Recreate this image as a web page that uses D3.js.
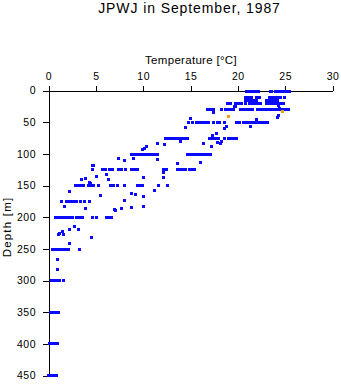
<!DOCTYPE html>
<html><head><meta charset="utf-8">
<script src="https://cdn.jsdelivr.net/npm/d3@7"></script>
<style>body{margin:0;background:#fff} svg{display:block}</style>
</head><body>
<svg id="c" width="341" height="384"></svg>
<script>
const title = "JPWJ in September, 1987";
const xLabel = "Temperature [°C]";
const yLabel = "Depth [m]";
const xTicks = [0, 5, 10, 15, 20, 25, 30];
const yTicks = [0, 50, 100, 150, 200, 250, 300, 350, 400, 450];

// standard-depth bands: depth and the temperatures observed there
const bandDepths = [1, 11, 16, 21, 30, 50, 76, 101, 125, 150, 176, 201, 251, 300, 350, 400, 450];
const bandTemps = [
  [20.9, 21.2, 21.6, 21.9, 22.2, 23.4, 23.6, 24.0, 24.3, 24.6, 24.9, 25.2, 25.5],
  [20.8, 21.1, 21.4, 22.0, 22.3, 23.3, 23.6, 23.9, 24.2, 24.5, 24.9],
  [20.8, 21.1, 21.4, 21.7, 22.0, 23.0, 23.3, 23.6, 23.9, 24.2],
  [18.9, 19.2, 19.8, 20.1, 20.4, 20.8, 21.2, 21.5, 21.9, 22.2, 22.4, 23.0, 23.3, 23.6, 23.9, 24.2, 24.5, 24.8],
  [16.8, 17.1, 17.4, 18.3, 18.7, 18.9, 19.2, 19.5, 20.3, 20.6, 20.9, 21.2, 21.5, 22.1, 22.4, 22.7, 23.0, 23.3, 23.6, 23.9, 24.1, 24.4, 24.7, 25.0, 25.3],
  [14.8, 15.2, 15.6, 16.0, 16.3, 16.6, 16.9, 17.4, 17.8, 18.1, 18.6, 19.9, 20.2, 20.6, 20.8, 21.1, 21.4, 21.7, 22.0, 22.2, 22.5, 22.8, 23.1],
  [12.4, 12.7, 13.0, 13.3, 13.6, 13.9, 14.2, 14.5, 14.7, 17.0, 17.3, 17.6, 18.0, 18.6, 19.0, 19.2, 19.5, 19.9],
  [8.8, 9.1, 9.4, 9.7, 10.0, 10.3, 10.6, 10.9, 11.2, 11.5, 14.7, 15.0, 15.3, 15.6, 15.9, 16.2, 16.5, 16.8, 17.1],
  [4.6, 5.7, 6.0, 6.4, 6.8, 7.4, 7.7, 8.1, 8.8, 9.1, 9.4, 12.2, 12.5, 13.6, 13.9, 14.2, 14.5, 14.9, 15.2, 15.4],
  [2.9, 3.2, 3.5, 3.7, 4.2, 4.5, 4.8, 5.3, 6.6, 6.9, 7.3, 8.0, 9.4, 9.7, 9.9, 11.6, 12.6],
  [1.4, 1.9, 2.2, 2.5, 2.8, 3.0, 3.4, 3.8, 4.3],
  [0.7, 1.0, 1.3, 1.6, 1.9, 2.2, 2.5, 3.0, 3.3, 3.6, 4.7, 5.1, 6.1, 6.4, 6.7],
  [0.4, 0.7, 1.0, 1.3, 1.6, 1.9, 2.1, 3.3],
  [0.3, 0.6, 0.9, 1.2, 1.6],
  [0.2, 0.5, 0.8, 1.1],
  [0.15, 0.45, 0.75, 0.9],
  [0.05, 0.35, 0.65, 0.85]
];

// other individual observations
const scatterTemps = [19.6, 19.8, 24.3, 24.4, 17.4, 24.3, 24.2, 15.0, 22.0,
  14.5, 18.8, 18.6, 21.3, 17.7, 17.3,
  13.9, 17.8, 18.3, 18.2, 16.4, 11.5, 12.3, 17.2, 10.4, 9.9, 10.1,
  9.0, 11.5, 7.4, 8.0, 13.6, 16.1, 4.6, 4.8,
  12.2, 6.1, 5.1, 12.2, 10.0, 6.3, 3.5, 3.9, 4.3, 4.4,
  11.2, 2.2, 8.8, 9.2, 5.5, 10.0, 8.0,
  1.7, 3.9, 7.0, 7.1, 7.7, 8.8, 10.0,
  2.7, 2.2, 3.2, 1.5, 1.2, 1.1, 1.6, 4.5, 2.2,
  1.0, 1.0];
const scatterDepths = [25, 25, 24, 28, 35, 40, 43, 44, 46,
  59, 57, 60, 57, 68, 71,
  81, 82, 81, 84, 84, 83, 86, 89, 89, 93, 91,
  108, 109, 107, 111, 115, 114, 118, 118,
  129, 133, 136, 137, 138, 141, 141, 139, 145, 147,
  158, 160, 162, 164, 166, 167, 174,
  183, 187, 188, 190, 187, 184, 183,
  214, 220, 220, 222, 225, 227, 228, 232, 242,
  267, 283];

// highlighted (orange) observations
const flagTemps = [19.0, 24.7];
const flagDepths = [41.5, 33];

const FONT = "'Liberation Sans', Arial, Helvetica, sans-serif";
const svg = d3.select("#c");
const x = d3.scaleLinear().domain([0, 30]).range([48.5, 332.5]);
const y = d3.scaleLinear().domain([0, 450]).range([90.5, 375.5]);

svg.append("text").attr("x", 189.5).attr("y", 13).attr("text-anchor", "middle")
  .attr("font-family", FONT).attr("font-size", 14).attr("letter-spacing", 0.9)
  .text(title);

const gx = svg.append("g").attr("transform", `translate(0,${y(0)})`)
  .call(d3.axisTop(x).tickValues(xTicks).tickSize(5).tickSizeOuter(0).tickPadding(5.5));
const gy = svg.append("g").attr("transform", `translate(${x(0)},0)`)
  .call(d3.axisLeft(y).tickValues(yTicks).tickSize(6).tickSizeOuter(0).tickPadding(6.5));
[gx, gy].forEach(g => {
  g.selectAll("path,line").attr("stroke", "#000").attr("shape-rendering", "crispEdges");
  g.selectAll("text").attr("font-family", FONT).attr("font-size", 10.5).attr("letter-spacing", 0.5).attr("fill", "#000");
});

svg.append("text").attr("x", 191).attr("y", 64).attr("text-anchor", "middle")
  .attr("font-family", FONT).attr("font-size", 11.5).attr("letter-spacing", 0.3)
  .text(xLabel);
svg.append("text").attr("transform", "translate(11,227) rotate(-90)").attr("text-anchor", "middle")
  .attr("font-family", FONT).attr("font-size", 11.5).attr("letter-spacing", 1.2)
  .text(yLabel);

const pts = [];
bandDepths.forEach((d, i) => bandTemps[i].forEach(t => pts.push({t, d})));
scatterTemps.forEach((t, i) => pts.push({t, d: scatterDepths[i]}));
const flags = flagTemps.map((t, i) => ({t, d: flagDepths[i]}));

svg.append("g").selectAll("rect").data(pts).join("rect")
  .attr("x", p => x(p.t) - 1.5).attr("y", p => y(p.d) - 1.5)
  .attr("width", 3).attr("height", 3).attr("fill", "#0a0aff")
  .attr("shape-rendering", "crispEdges");
svg.append("g").selectAll("rect").data(flags).join("rect")
  .attr("x", p => x(p.t) - 1.5).attr("y", p => y(p.d) - 1.5)
  .attr("width", 3).attr("height", 3).attr("fill", "#f0a000")
  .attr("shape-rendering", "crispEdges");
</script>
</body></html>
